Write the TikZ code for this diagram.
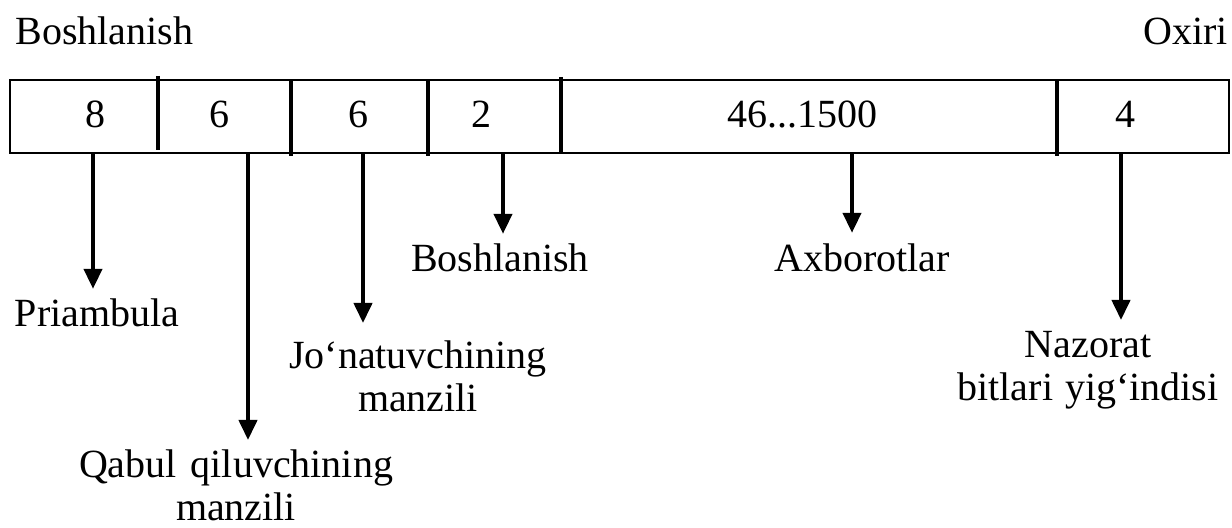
\documentclass[tikz,border=0pt]{standalone}
\usepackage{fontspec}
\setmainfont{Liberation Serif}
\usetikzlibrary{arrows.meta}
\tikzset{
  lbl/.style={inner sep=0pt, font=\fontsize{20}{21.5}\selectfont, align=center},
  sepline/.style={line width=2.2pt},
  arr/.style={line width=2pt, -{Triangle[width=9pt,length=10pt]}},
}
\begin{document}
\begin{tikzpicture}[x=0.5pt,y=-0.5pt]
  \useasboundingbox (0,0) rectangle (1232,528);
  % frame
  \draw[line width=1pt] (10,80) rectangle (1229,153);
  \foreach \x/\t/\b in {158/76/150, 291/80/156, 428/80/156, 561/77/153, 1057/80/156}
    \draw[sepline] (\x,\t) -- (\x,\b);
  % field sizes
  \node[lbl,anchor=base] (f1) at (95,128) {8};
  \node[lbl,anchor=base] (f2) at (219,128) {6};
  \node[lbl,anchor=base] (f3) at (358,128) {6};
  \node[lbl,anchor=base] (f4) at (481,128) {2};
  \node[lbl,anchor=base] (f5) at (802,128) {46...1500};
  \node[lbl,anchor=base] (f6) at (1125,128) {4};
  % ends
  \node[lbl,anchor=base west] (start) at (15,45) {Boshlanish};
  \node[lbl,anchor=base east] (end) at (1228,45) {Oxiri};
  % labels
  \node[lbl,anchor=base] (pri) at (97,327) {Priambula};
  \node[lbl,anchor=north] (dst) at (236,449) {Qabul\hspace{0.35em}qiluvchining\\manzili};
  \node[lbl,anchor=north] (src) at (418,340) {Jo‘natuvchining\\manzili};
  \node[lbl,anchor=base] (sfd) at (500,272) {Boshlanish};
  \node[lbl,anchor=base] (data) at (862,272) {Axborotlar};
  \node[lbl,anchor=north] (crc) at (1088,331) {Nazorat\\bitlari\hspace{0.3em}yig‘indisi};
  % arrows
  \coordinate (a1) at (93,153);
  \coordinate (a2) at (248,153);
  \coordinate (a3) at (363,153);
  \coordinate (a4) at (503,153);
  \coordinate (a5) at (852,153);
  \coordinate (a6) at (1121,153);
  \foreach \a/\b/\g in {a1/pri/5pt, a2/dst/4.5pt, a3/src/8.5pt, a4/sfd/5pt, a5/data/5.5pt, a6/crc/5.5pt}
    \draw[arr,shorten >=\g] (\a) -- (\a |- \b.north);
\end{tikzpicture}
\end{document}
